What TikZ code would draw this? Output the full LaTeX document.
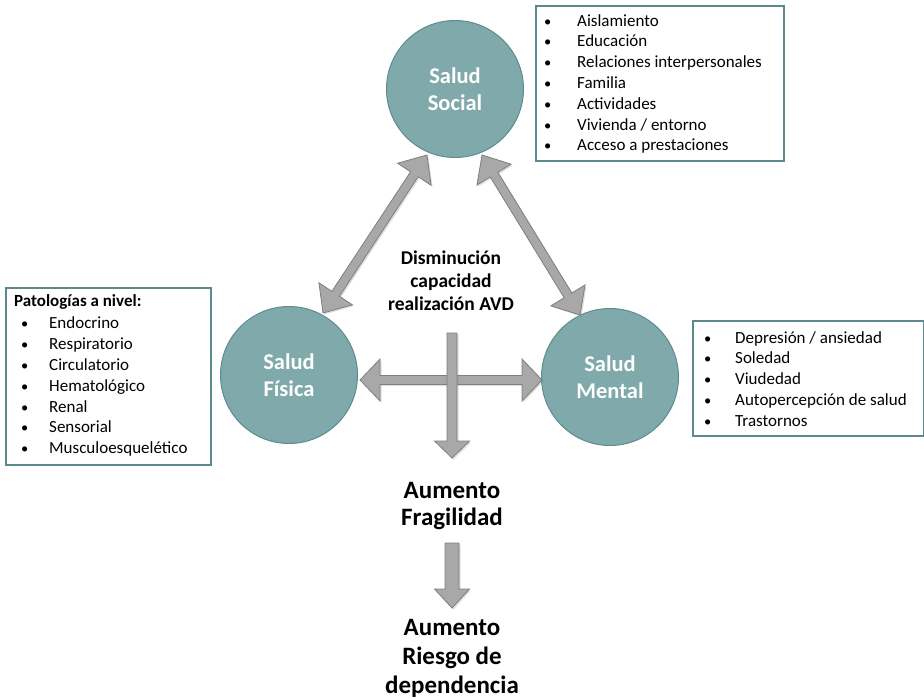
\documentclass[tikz,border=0pt]{standalone}
\usepackage{fontspec}
\setmainfont{Carlito}
\usetikzlibrary{calc,shadows}

\definecolor{tealfill}{HTML}{7FA9AB}
\definecolor{tealline}{HTML}{5E8C8F}
\definecolor{boxline}{HTML}{5B8A8C}
\definecolor{arrfill}{HTML}{A8A8A8}
\definecolor{arrline}{HTML}{7F7F7F}

% double-headed block arrow between two points:
% #1,#2 tips, #3 head length, #4 head half-width, #5 shaft half-width
\newcommand\blockdbl[5]{%
  \draw[blockarrow]
    (#1) -- ($($(#1)!#3!(#2)$)!#4!90:(#2)$) -- ($($(#1)!#3!(#2)$)!#5!90:(#2)$)
    -- ($($(#2)!#3!(#1)$)!#5!-90:(#1)$) -- ($($(#2)!#3!(#1)$)!#4!-90:(#1)$)
    -- (#2) -- ($($(#2)!#3!(#1)$)!#4!90:(#1)$) -- ($($(#2)!#3!(#1)$)!#5!90:(#1)$)
    -- ($($(#1)!#3!(#2)$)!#5!-90:(#2)$) -- ($($(#1)!#3!(#2)$)!#4!-90:(#2)$) -- cycle;}
% single-headed block arrow from tail #1 to tip #2
\newcommand\blocksgl[5]{%
  \draw[blockarrow]
    ($(#1)!#5!90:(#2)$) -- ($($(#2)!#3!(#1)$)!#5!-90:(#1)$) -- ($($(#2)!#3!(#1)$)!#4!-90:(#1)$)
    -- (#2) -- ($($(#2)!#3!(#1)$)!#4!90:(#1)$) -- ($($(#2)!#3!(#1)$)!#5!90:(#1)$)
    -- ($(#1)!#5!-90:(#2)$) -- cycle;}

\tikzset{
  health/.style={circle, fill=tealfill, draw=tealline, line width=1pt,
    minimum size=137pt, inner sep=0pt, text=white, align=center,
    font=\fontsize{22.5}{27}\selectfont\bfseries},
  listbox/.style={draw=boxline, line width=1.6pt, fill=white, anchor=north west, inner sep=0pt},
  listtext/.style={anchor=north west, inner sep=0pt, align=left,
    font=\fontsize{17}{20.8}\selectfont},
  flowtext/.style={align=center, inner sep=0pt, font=\fontsize{25}{27.5}\selectfont\bfseries},
  midtext/.style={align=center, inner sep=0pt, font=\fontsize{19.5}{23}\selectfont\bfseries},
  blockarrow/.style={fill=arrfill, draw=arrline, line width=0.8pt, line join=miter,
    drop shadow={opacity=0.25, shadow xshift=1.5pt, shadow yshift=-1.5pt}},
}
% small list bullet in a box of the given width
\newcommand\bul[1]{\makebox[#1][l]{\hspace*{3pt}{\fontsize{14.5}{14.5}\selectfont\textbullet}}}

\begin{document}
\begin{tikzpicture}[x=1pt,y=-1pt]
\useasboundingbox (0,0) rectangle (924,699);

% the three health domains
\node[health] (social) at (455,89) {Salud\\Social};
\node[health] (fisica) at (289,375) {Salud\\Física};
\node[health] (mental) at (610,377) {Salud\\Mental};

% list boxes
\node[listbox, minimum width=248pt, minimum height=155pt] (socbox) at (535,5) {};
\node[listtext] (soclist) at (541,14) {%
  \bul{36pt}Aislamiento\\ \bul{36pt}Educación\\ \bul{36pt}Relaciones interpersonales\\
  \bul{36pt}Familia\\ \bul{36pt}Actividades\\ \bul{36pt}Vivienda / entorno\\
  \bul{36pt}Acceso a prestaciones};

\node[listbox, minimum width=205pt, minimum height=177pt] (fisbox) at (5,287) {};
\node[listtext] (fislist) at (14,294) {%
  \textbf{Patologías a nivel:}\\[2pt]
  \hspace*{4pt}\bul{31pt}Endocrino\\ \hspace*{4pt}\bul{31pt}Respiratorio\\
  \hspace*{4pt}\bul{31pt}Circulatorio\\ \hspace*{4pt}\bul{31pt}Hematológico\\
  \hspace*{4pt}\bul{31pt}Renal\\ \hspace*{4pt}\bul{31pt}Sensorial\\
  \hspace*{4pt}\bul{31pt}Musculoesquelético};

\node[listbox, minimum width=231pt, minimum height=115pt] (menbox) at (692,320) {};
\node[listtext] (menlist) at (701,331) {%
  \bul{34pt}Depresión / ansiedad\\ \bul{34pt}Soledad\\ \bul{34pt}Viudedad\\
  \bul{34pt}Autopercepción de salud\\ \bul{34pt}Trastornos};

% central and outcome texts
\node[midtext] (avd) at (451,281) {Disminución\\capacidad\\realización AVD};
\node[flowtext] (fragil) at (452,506) {Aumento\\Fragilidad};
\node[flowtext, font=\fontsize{25}{29}\selectfont\bfseries] (riesgo) at (452,658)
  {Aumento\\Riesgo de\\dependencia};

% arrow end points near the circles
\coordinate (fs) at (323,313);
\coordinate (sf) at (427,155);
\coordinate (sm) at (482,155);
\coordinate (ms) at (580,315);
\coordinate (fm) at (360,380);
\coordinate (mf) at (542,380);
\coordinate (avdtail) at (452,333);
\coordinate (avdtip) at (452,458);
\coordinate (fragtail) at (452,543);
\coordinate (fragtip) at (452,608);

% block arrows
\blockdbl{fs}{sf}{23pt}{20pt}{4.5pt}
\blockdbl{sm}{ms}{23pt}{20pt}{4.5pt}
\blockdbl{fm}{mf}{20pt}{21pt}{4.5pt}
\blocksgl{avdtail}{avdtip}{17pt}{17.5pt}{5pt}
\blocksgl{fragtail}{fragtip}{19pt}{17.5pt}{7pt}
\end{tikzpicture}
\end{document}
